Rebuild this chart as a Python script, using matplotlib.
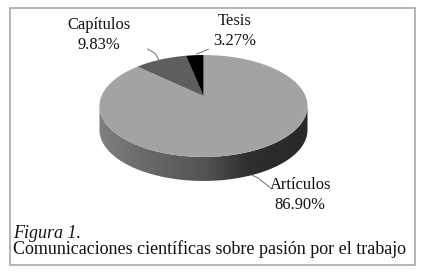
import numpy as np
import matplotlib
matplotlib.use("Agg")
import matplotlib.pyplot as plt
from matplotlib.patches import Polygon, Rectangle

categories = ["Artículos", "Capítulos", "Tesis"]
values = [86.90, 9.83, 3.27]
labels = ["86.90%", "9.83%", "3.27%"]
colors = ["#a3a3a3", "#5e5e5e", "#000000"]

W, H = 424, 274
fig = plt.figure(figsize=(W / 100, H / 100), dpi=100)
ax = fig.add_axes([0, 0, 1, 1])
ax.set_xlim(0, W)
ax.set_ylim(H, 0)
ax.axis("off")
serif = "Liberation Serif"

ax.add_patch(Rectangle((9.5, 7.5), 405.5, 257, fc="white", ec="#a8a8a8", lw=1.2))

CX, CY, A, B, K, DEPTH = 203.5, 96.0, 102.0, 49.0, 0.196, 24.0


def project(theta):
    # theta measured clockwise from the top of the pie
    x, y = np.sin(theta), np.cos(theta)
    d = 1 + K * y
    return CX + A * x / d, CY - B * y / d


# side wall: gradient image clipped to the swept rim
t = np.linspace(0, 2 * np.pi, 721)
px, py = project(t)
xmin, xmax = px.min(), px.max()
i0, i1 = px.argmax(), px.argmin()
tt = np.linspace(t[i0], t[i1], 300)
bx, by = project(tt)
rim = np.column_stack([np.r_[bx, bx[::-1]], np.r_[by, by[::-1] + DEPTH]])
grad_x = np.array([0.0, 0.2, 0.5, 0.72, 0.85, 1.0])
grad_v = np.array([0.50, 0.42, 0.33, 0.18, 0.17, 0.16])
g = np.interp(np.linspace(0, 1, 256), grad_x, grad_v)[None, :]
im = ax.imshow(g, cmap="gray", vmin=0, vmax=1, aspect="auto",
               extent=(xmin, xmax, py.max() + DEPTH, py.min()), zorder=2,
               interpolation="bilinear")
ax.set_xlim(0, W)
ax.set_ylim(H, 0)
clip = Polygon(rim, closed=True, transform=ax.transData, fc="none", ec="none")
ax.add_patch(clip)
im.set_clip_path(clip)

# top face: slices run clockwise, last one ends at the top
fractions = np.array(values) / sum(values)
start = 0.0
for frac, col in zip(fractions, colors):
    th = np.linspace(start, start + frac * 2 * np.pi, 300)
    sx, sy = project(th)
    ax.add_patch(Polygon(np.column_stack([np.r_[CX, sx], np.r_[CY, sy]]),
                         closed=True, fc=col, ec="none", zorder=3))
    start += frac * 2 * np.pi

# leader lines
ax.plot([147.7, 155, 159.3], [49, 53.3, 60.7], color="#707070", lw=0.7, zorder=4)
ax.plot([196.7, 208.3], [54, 49.3], color="#707070", lw=0.7, zorder=4)
ax.plot([251.7, 258, 270], [175, 178, 187.5], color="#707070", lw=0.7, zorder=4)

fs = 11.9
tc = "#111111"
ax.text(98.5, 25, categories[1], family=serif, fontsize=fs, ha="center", va="center", color=tc)
ax.text(98.5, 45, labels[1], family=serif, fontsize=fs, ha="center", va="center", color=tc)
ax.text(235, 21, categories[2], family=serif, fontsize=fs, ha="center", va="center", color=tc)
ax.text(235, 41, labels[2], family=serif, fontsize=fs, ha="center", va="center", color=tc)
ax.text(300.5, 185, categories[0], family=serif, fontsize=fs, ha="center", va="center", color=tc)
ax.text(300, 205, labels[0], family=serif, fontsize=fs, ha="center", va="center", color=tc)

cap = 12.93
ax.text(13, 238, "Figura 1.", family=serif, style="italic", fontsize=cap, ha="left", va="baseline", color=tc)
ax.text(13, 254, "Comunicaciones científicas sobre pasión por el trabajo",
        family=serif, fontsize=cap, ha="left", va="baseline", color=tc)

fig.savefig("out.png", dpi=100)
